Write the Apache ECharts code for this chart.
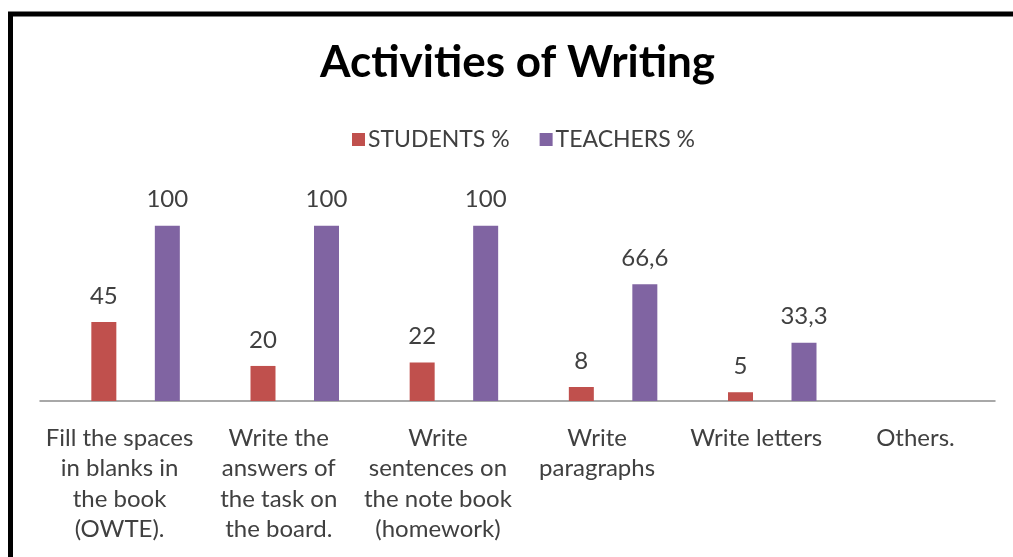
<!DOCTYPE html>
<html>
<head>
<meta charset="utf-8">
<title>Activities of Writing</title>
<script src="https://cdn.jsdelivr.net/npm/echarts@6/dist/echarts.min.js"></script>
<style>
  html, body { margin: 0; padding: 0; background: #ffffff; }
  #chart { width: 1013px; height: 557px; }
</style>
</head>
<body>
<div id="chart"></div>
<script>
// Activity categories (line breaks as printed under the axis)
const categories = [
  'Fill the spaces\nin blanks in\nthe book\n(OWTE).',
  'Write the\nanswers of\nthe task on\nthe board.',
  'Write\nsentences on\nthe note book\n(homework)',
  'Write\nparagraphs',
  'Write letters',
  'Others.'
];
const seriesNames = ['STUDENTS %', 'TEACHERS %'];
const students = [45, 20, 22, 8, 5, null];
const teachers = [100, 100, 100, 66.6, 33.3, null];

const FONT = 'Lato, "Open Sans", sans-serif';
const TEXT = '#404040';

const chart = echarts.init(document.getElementById('chart'), null, { renderer: 'canvas' });

// decimal comma for value labels
const fmt = p => String(p.value).replace('.', ',');

const barLabel = {
  show: true,
  position: 'top',
  distance: 14,
  color: TEXT,
  fontFamily: FONT,
  fontSize: 24,
  formatter: fmt
};

chart.setOption({
  animation: false,
  backgroundColor: '#ffffff',
  color: ['#C0504D', '#8064A2'],
  title: {
    text: 'Activities of Writing',
    left: 315,
    top: 36,
    textStyle: { fontFamily: FONT, fontSize: 44, fontWeight: 'bold', color: '#000000' }
  },
  legend: {
    data: seriesNames,
    top: 123,
    left: 347,
    itemWidth: 13,
    itemHeight: 13,
    itemGap: 30,
    icon: 'rect',
    textStyle: { fontFamily: FONT, fontSize: 23, color: TEXT, padding: [0, 0, 0, -2] }
  },
  grid: [
    { left: 40, right: 18, top: 225.7, bottom: 156, containLabel: false },
    { left: 56, right: 2, top: 225.7, bottom: 156, containLabel: false }
  ],
  xAxis: [
    {
      type: 'category',
      gridIndex: 0,
      data: categories,
      axisLine: { show: true, lineStyle: { color: '#8c8c8c', width: 1.5 } },
      axisTick: { show: false },
      axisLabel: {
        interval: 0,
        margin: 22,
        color: TEXT,
        fontFamily: FONT,
        fontSize: 24,
        lineHeight: 30.5,
        align: 'center'
      }
    },
    {
      type: 'category',
      gridIndex: 1,
      data: categories,
      show: false
    }
  ],
  yAxis: [
    { type: 'value', gridIndex: 0, min: 0, max: 100, show: false, splitLine: { show: false } },
    { type: 'value', gridIndex: 1, min: 0, max: 100, show: false, splitLine: { show: false } }
  ],
  graphic: [
    {
      type: 'rect',
      silent: true,
      shape: { x: 10.5, y: 14, width: 1200, height: 800 },
      style: { fill: 'none', stroke: '#000000', lineWidth: 5 }
    }
  ],
  series: [
    {
      name: seriesNames[0],
      type: 'bar',
      xAxisIndex: 1,
      yAxisIndex: 1,
      data: students,
      barWidth: 25,
      barGap: '154%',
      label: barLabel
    },
    {
      name: seriesNames[1],
      type: 'bar',
      xAxisIndex: 1,
      yAxisIndex: 1,
      data: teachers,
      barWidth: 25,
      barGap: '154%',
      label: barLabel
    }
  ]
});
</script>
</body>
</html>
